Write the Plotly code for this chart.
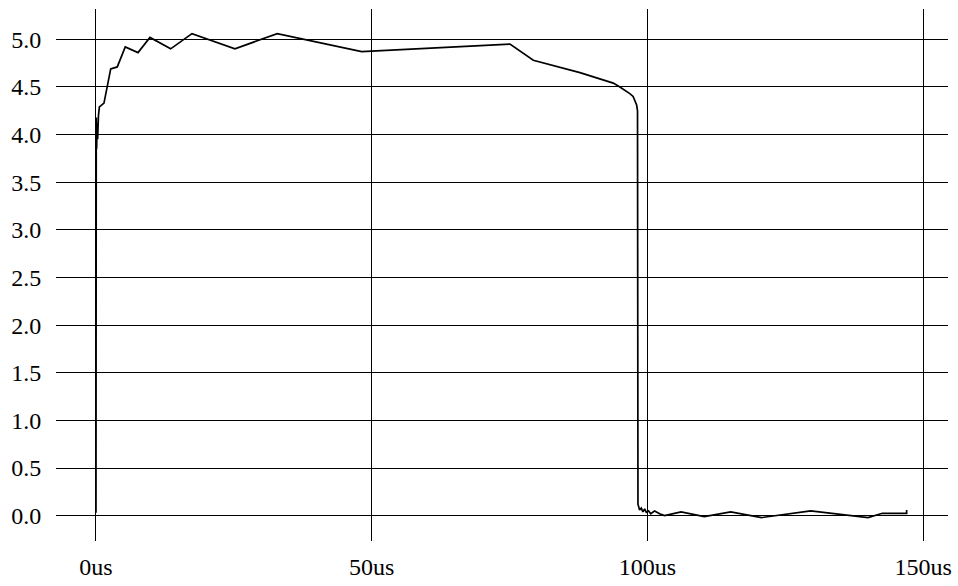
import plotly.graph_objects as go

# Voltage trace over time (microseconds, volts)
time_us = [
    0.0, 0.05, 0.12, 0.2, 0.3, 0.45, 0.62, 1.45, 2.67, 3.86, 5.31, 7.62, 9.79,
    13.54, 17.41, 25.2, 32.87, 48.18, 75.07, 79.3, 87.76, 93.8, 95.0, 96.8,
    97.4, 98.04, 98.2, 98.28, 98.58, 98.88, 99.18, 99.49, 99.78, 100.2, 100.6,
    101.3, 102.2, 103.1, 106.1, 110.3, 115.1, 120.7, 129.6, 140.0, 142.6,
    147.0, 147.0,
]
voltage = [
    0.03, 4.18, 3.85, 4.12, 3.95, 4.2, 4.29, 4.33, 4.69, 4.71, 4.92, 4.86, 5.02,
    4.90, 5.06, 4.90, 5.06, 4.87, 4.95, 4.78, 4.65, 4.54, 4.50, 4.43,
    4.40, 4.31, 4.25, 0.12, 0.06, 0.08, 0.04, 0.07, 0.035, 0.05, 0.02,
    0.05, 0.02, 0.0, 0.04, -0.01, 0.04, -0.02, 0.05, -0.02, 0.025,
    0.025, 0.06,
]

x_ticks = [0, 50, 100, 150]
x_tick_text = ["0us", "50us", "100us", "150us"]
y_ticks = [0.0, 0.5, 1.0, 1.5, 2.0, 2.5, 3.0, 3.5, 4.0, 4.5, 5.0]
y_tick_text = [f"{v:.1f}" for v in y_ticks]

fig = go.Figure(
    go.Scatter(
        x=time_us,
        y=voltage,
        mode="lines",
        line=dict(color="black", width=1.7),
        hoverinfo="skip",
    )
)

axis_font = dict(family="Liberation Serif, Times New Roman, serif", size=24, color="black")

fig.update_layout(
    width=958,
    height=586,
    margin=dict(l=56, r=10, t=9, b=45),
    paper_bgcolor="white",
    plot_bgcolor="white",
    showlegend=False,
    xaxis=dict(
        range=[-7.25, 154.5],
        tickvals=x_ticks,
        ticktext=x_tick_text,
        showgrid=True,
        gridcolor="black",
        gridwidth=1,
        zeroline=False,
        showline=False,
        ticks="outside",
        ticklen=4,
        tickcolor="rgba(0,0,0,0)",
        tickfont=axis_font,
        automargin=False,
    ),
    yaxis=dict(
        range=[-0.266, 5.318],
        tickvals=y_ticks,
        ticktext=y_tick_text,
        showgrid=True,
        gridcolor="black",
        gridwidth=1,
        zeroline=False,
        showline=False,
        ticks="outside",
        ticklen=9,
        tickcolor="rgba(0,0,0,0)",
        tickfont=axis_font,
        automargin=False,
    ),
)

fig.write_html("out.html")
